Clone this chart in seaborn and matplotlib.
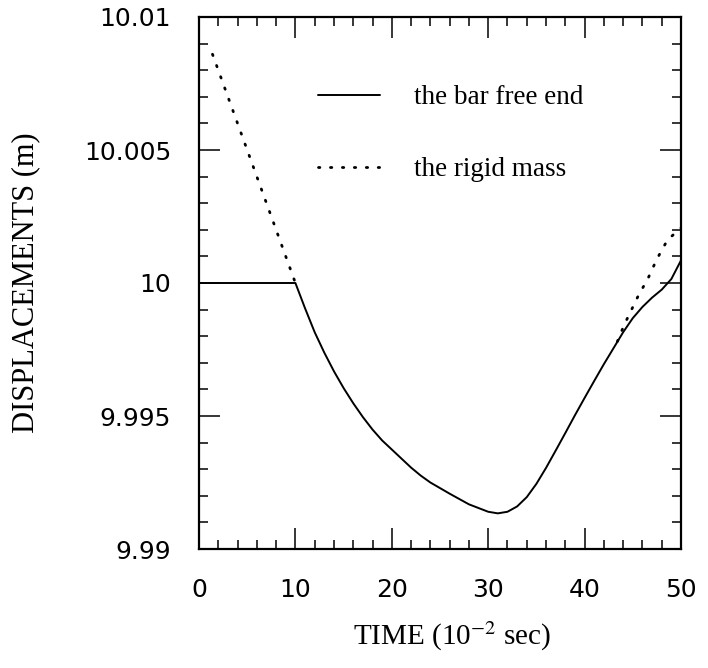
import matplotlib
matplotlib.use('Agg')
import numpy as np
import pandas as pd
import matplotlib.pyplot as plt
import seaborn as sns
from matplotlib.ticker import MultipleLocator

# bar free end
bar_time = [0, 10, 11, 12, 13, 14, 15, 16, 17, 18, 19, 20, 22, 23, 24, 26,
            28, 30, 31, 32, 33, 34, 35, 36, 37, 38, 39, 40, 41, 42, 43, 44,
            45, 46, 47, 48, 49, 50]
bar_disp = [10.0, 10.0, 9.99905, 9.99815, 9.99738, 9.99668, 9.99605, 9.99548,
            9.99496, 9.99449, 9.99408, 9.99374, 9.99306, 9.99276, 9.99250,
            9.99208, 9.99168, 9.99140, 9.99134, 9.99140, 9.99160, 9.99195,
            9.99245, 9.99305, 9.99370, 9.99436, 9.99503, 9.99568, 9.99632,
            9.99695, 9.99755, 9.99815, 9.99868, 9.99910, 9.99945, 9.99975,
            10.00015, 10.00085]

# rigid mass: only the parts that separate from the bar curve are visible
mass_time = [1.4, 10.0, 43.4, 44.1, 45.5, 46.6, 47.5, 48.6, 50.0]
mass_disp = [10.0086, 10.0, 9.99780, 9.99842, 9.99947, 10.00019, 10.00090,
             10.00162, 10.00207]
mass_part = [0, 0, 1, 1, 1, 1, 1, 1, 1]

bar_df = pd.DataFrame({'t': bar_time, 'd': bar_disp})
mass_df = pd.DataFrame({'t': mass_time, 'd': mass_disp, 'part': mass_part})

sns.set_theme(style='white')
plt.rcParams['font.family'] = ['Liberation Serif', 'DejaVu Serif']
plt.rcParams['mathtext.fontset'] = 'stix'
plt.rcParams['text.color'] = 'black'
plt.rcParams['axes.labelcolor'] = 'black'
plt.rcParams['xtick.labelcolor'] = 'black'
plt.rcParams['ytick.labelcolor'] = 'black'

fig = plt.figure(figsize=(7.08, 6.68), dpi=100)
ax = fig.add_axes([199 / 708, 1 - 549 / 668, 482 / 708, 532 / 668])

sns.lineplot(data=mass_df, x='t', y='d', units='part', estimator=None,
             color='black', lw=2.0, linestyle=(0, (0.5, 3.8)),
             dash_capstyle='round', label='the rigid mass', ax=ax)
sns.lineplot(data=bar_df, x='t', y='d', color='black', lw=1.4,
             label='the bar free end', ax=ax)

ax.set_xlim(0, 50)
ax.set_ylim(9.99, 10.01)
ax.xaxis.set_major_locator(MultipleLocator(10))
ax.xaxis.set_minor_locator(MultipleLocator(2))
ax.yaxis.set_major_locator(MultipleLocator(0.005))
ax.yaxis.set_minor_locator(MultipleLocator(0.001))
ax.set_yticks([9.99, 9.995, 10.0, 10.005, 10.01])
ax.set_yticklabels(['9.99', '9.995', '10', '10.005', '10.01'])

ax.tick_params(which='both', direction='in', top=True, right=True,
               bottom=True, left=True, color='black', width=1.1,
               labelfontfamily='DejaVu Sans', labelsize=18,
               labelcolor='black')
ax.tick_params(which='major', length=15)
ax.tick_params(which='minor', length=6.5)
ax.tick_params(axis='x', which='major', pad=21)
ax.tick_params(axis='y', which='major', pad=20)
for s in ax.spines.values():
    s.set_color('black')
    s.set_linewidth(1.6)

ax.set_xlabel('TIME (10$^{-2}$ sec)', fontsize=21, color='black')
ax.set_ylabel('DISPLACEMENTS (m)', fontsize=22, color='black')
ax.xaxis.set_label_coords(0.525, -0.132)
ax.yaxis.set_label_coords(-0.33, 0.5)

h, l = ax.get_legend_handles_labels()
lookup = dict(zip(l, h))
order = ['the bar free end', 'the rigid mass']
leg = ax.legend([lookup[k] for k in order], order, loc='upper left',
                bbox_to_anchor=(0.247, 0.872), frameon=False, fontsize=19.5,
                borderpad=0, borderaxespad=0, handlelength=2.3,
                handletextpad=1.25, labelspacing=1.75)
for t in leg.get_texts():
    t.set_color('black')

fig.savefig('out.png', dpi=100, facecolor='white')
